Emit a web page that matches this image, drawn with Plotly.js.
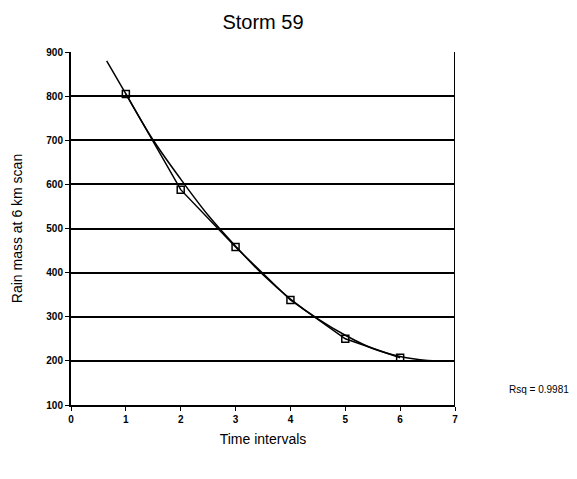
<!DOCTYPE html>
<html><head><meta charset="utf-8">
<script src="https://cdn.plot.ly/plotly-3.0.1.min.js"></script>
<style>body{margin:0;background:#fff}#chart{width:577px;height:479px}</style>
</head><body><div id="chart"></div>
<script>
var intervals = [1, 2, 3, 4, 5, 6];
var rainMass = [805, 588, 458, 338, 250, 207];
var fitX = [0.65, 1, 1.5, 2, 2.5, 3, 3.5, 4, 4.5, 5, 5.5, 6, 6.5, 7];
var fitY = [880, 805, 700, 612, 530, 460, 395, 340, 295, 258, 228, 210, 201, 199];
var xTicks = [0, 1, 2, 3, 4, 5, 6, 7];
var yTicks = [100, 200, 300, 400, 500, 600, 700, 800, 900];
var titleText = "Storm 59";
var xTitle = "Time intervals";
var yTitle = "Rain mass at 6 km scan";
var rsqText = "Rsq = 0.9981";

var traces = [
  {x: fitX, y: fitY, mode: "lines", line: {color: "#000", width: 1.5, shape: "spline"}, hoverinfo: "skip"},
  {x: intervals, y: rainMass, mode: "lines+markers", line: {color: "#000", width: 1.5},
   marker: {symbol: "square-open", size: 7, color: "#000", line: {width: 1.5}}}
];
var layout = {
  width: 577, height: 479,
  margin: {l: 71, r: 122, t: 52, b: 74},
  paper_bgcolor: "#fff", plot_bgcolor: "#fff",
  showlegend: false,
  font: {family: "Liberation Sans, Arial, sans-serif", color: "#000"},
  title: {text: titleText, font: {size: 20, color: "#000"}, x: 263/577, xanchor: "center", y: 0.955, yanchor: "middle"},
  xaxis: {range: [0, 7], tickvals: xTicks, ticks: "outside", ticklen: 4, tickcolor: "#000",
          showgrid: false, zeroline: false, showline: true, linecolor: "#000", linewidth: 2, mirror: false,
          tickfont: {size: 10, family: "Liberation Sans, Arial", weight: "bold"},
          title: {text: xTitle, font: {size: 14}, standoff: 10}},
  yaxis: {range: [100, 900], tickvals: yTicks, ticks: "outside", ticklen: 4, tickcolor: "#000",
          showgrid: true, gridcolor: "#000", gridwidth: 2, zeroline: false,
          showline: true, linecolor: "#000", linewidth: 2,
          tickfont: {size: 10, family: "Liberation Sans, Arial", weight: "bold"},
          title: {text: yTitle, font: {size: 14}, standoff: 20}},
  shapes: [
    {type: "line", xref: "x", yref: "y", x0: 7, x1: 7, y0: 100, y1: 900, line: {color: "#000", width: 2}}
  ],
  annotations: [
    {text: rsqText, xref: "paper", yref: "paper", x: 1.135, y: 0.045, showarrow: false,
     font: {size: 10, color: "#000"}, xanchor: "left", yanchor: "middle"}
  ]
};
Plotly.newPlot("chart", traces, layout, {displayModeBar: false, staticPlot: true});
</script></body></html>
